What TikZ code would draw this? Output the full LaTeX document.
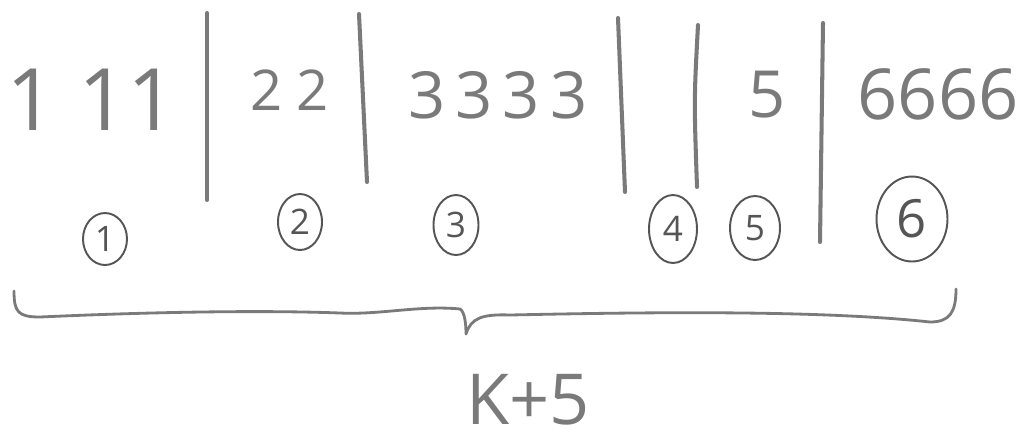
\documentclass[tikz,border=0pt]{standalone}
\usepackage{fontspec}
\setmainfont{Open Sans}
\usetikzlibrary{shapes.geometric}
\definecolor{pencilgray}{RGB}{122,122,122}
\definecolor{circlegray}{RGB}{85,85,85}
\newcommand{\gap}[1]{\kern#1\relax}
\begin{document}
\begin{tikzpicture}[x=0.02cm,y=-0.02cm,
  pencil/.style={draw=pencilgray, line width=2.3pt, line cap=round},
  digits/.style={text=pencilgray, inner sep=0pt},
  tag/.style={ellipse, draw=circlegray, line width=1.1pt, inner sep=0pt,
    text=circlegray, font=\fontsize{20}{20}\selectfont}]
\useasboundingbox (0,0) rectangle (1025,441);

% groups of equal values
\node[digits, font=\fontsize{49}{49}\selectfont] (g1) at (92,100) {1 11};
\node[digits, font=\fontsize{32}{32}\selectfont] (g2) at (290,90) {2\gap{0.28cm}2};
\node[digits, font=\fontsize{37}{37}\selectfont] (g3) at (498,95) {3\gap{0.2cm}3\gap{0.2cm}3\gap{0.2cm}3};
\node[digits, font=\fontsize{37}{37}\selectfont] (g5) at (767,95) {5};
\node[digits, font=\fontsize{40}{40}\selectfont] (g6) at (938,94) {6666};

% separators between the groups
\coordinate (s1t) at (207,13);  \coordinate (s1b) at (207,200);
\coordinate (s2t) at (359,14);  \coordinate (s2b) at (367,182);
\coordinate (s3t) at (618,18);  \coordinate (s3b) at (625,192);
\coordinate (s4t) at (698,25);  \coordinate (s4b) at (697,187);
\coordinate (s5t) at (823,23);  \coordinate (s5b) at (820,242);
\draw[pencil] (s1t) -- (s1b);
\draw[pencil] (s2t) -- (s2b);
\draw[pencil] (s3t) -- (s3b);
\draw[pencil] (s4t) .. controls (694,100) .. (s4b);
\draw[pencil] (s5t) -- (s5b);

% circled group numbers
\node[tag, minimum width=0.88cm, minimum height=1.04cm] (c1) at (105,239) {1};
\node[tag, minimum width=0.88cm, minimum height=1.12cm] (c2) at (300,222) {2};
\node[tag, minimum width=0.9cm, minimum height=1.2cm] (c3) at (456,225) {3};
\node[tag, minimum width=0.96cm, minimum height=1.36cm] (c4) at (673,229) {4};
\node[tag, minimum width=1.0cm, minimum height=1.28cm] (c5) at (755,228) {5};
\node[tag, minimum width=1.42cm, minimum height=1.7cm, font=\fontsize{30}{30}\selectfont] (c6) at (912,219) {6};

% brace under all groups
\coordinate (bl) at (14,291);
\coordinate (btip) at (466,334);
\coordinate (br) at (956,289);
\draw[draw=pencilgray, line width=1.6pt, line cap=round, line join=round]
  (bl) .. controls (14,312) and (18,317) .. (40,317)
  .. controls (150,312) and (260,310) .. (340,313)
  .. controls (380,315) and (420,305) .. (460,309)
  .. controls (465,312) and (466,325) .. (btip)
  .. controls (471,318) and (482,314) .. (510,315)
  .. controls (650,312) and (820,310) .. (930,322)
  .. controls (950,322) and (956,312) .. (br);

% size of the span
\node[digits, font=\fontsize{40}{40}\selectfont] (total) at (528,400) {K+5};
\end{tikzpicture}
\end{document}
